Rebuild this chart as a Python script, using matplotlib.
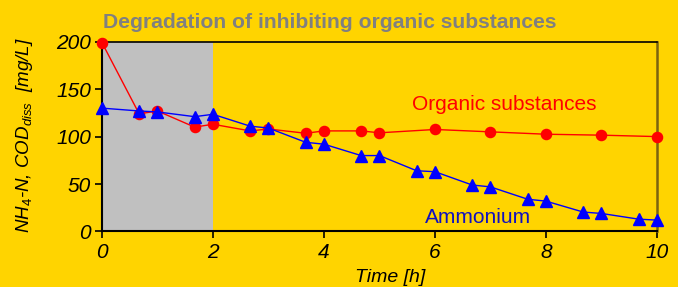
import matplotlib.pyplot as plt

# Daten: Zeit [h] und Konzentrationen [mg/L]
t_org = [0, 0.67, 1, 1.67, 2, 2.67, 3, 3.67, 4, 4.67, 5, 6, 7, 8, 9, 10]
organic = [199, 124, 127, 110, 113, 106, 108, 103.5, 106, 106, 104, 107.5, 105, 102.5, 101.5, 100]

t_nh4 = [0, 0.67, 1, 1.67, 2, 2.67, 3, 3.67, 4, 4.67, 5, 5.67, 6, 6.67, 7,
         7.67, 8, 8.67, 9, 9.67, 10]
ammonium = [130, 127, 126, 121, 123.5, 111, 109, 94, 92, 80, 80, 64, 63, 49, 47,
            34, 32, 20.5, 19, 13, 12]

bg = '#FFD400'
plt.rcParams['font.family'] = ['Liberation Sans', 'DejaVu Sans']
plt.rcParams['mathtext.fontset'] = 'custom'
plt.rcParams['mathtext.it'] = 'Liberation Sans:italic'
plt.rcParams['mathtext.rm'] = 'Liberation Sans'
plt.rcParams['mathtext.default'] = 'it'

fig = plt.figure(figsize=(6.78, 2.87), dpi=100, facecolor=bg)
ax = fig.add_axes([0.1504, 0.1934, 0.8186, 0.6613])
ax.set_facecolor(bg)

# grauer Bereich 0-2 h
ax.axvspan(0, 2, color='#C0C0C0', zorder=0, lw=0)

ax.plot(t_org, organic, '-', color='red', lw=1, marker='o', ms=7.3,
        mec='red', mfc='red', clip_on=False, zorder=3)
ax.plot(t_nh4, ammonium, '-', color='blue', lw=1, marker='^', ms=8,
        mec='blue', mfc='blue', clip_on=False, zorder=4)

ax.set_xlim(0, 10)
ax.set_ylim(0, 200)
ax.set_xticks([0, 2, 4, 6, 8, 10])
ax.set_yticks([0, 50, 100, 150, 200])
ax.tick_params(labelsize=15, direction='out', length=5, width=1.2, pad=3)
for lab in ax.get_xticklabels() + ax.get_yticklabels():
    lab.set_style('italic')

ax.spines['left'].set_linewidth(1.5)
ax.spines['bottom'].set_linewidth(1.5)
ax.spines['top'].set_linewidth(1.2)
ax.spines['right'].set_linewidth(1.8)
ax.spines['right'].set_color('#7A6410')

ax.set_xlabel('Time [h]', fontsize=14, style='italic')
ax.xaxis.set_label_coords(0.52, -0.2)
ax.set_ylabel(r'NH$_4$-N, COD$_{diss}$  [mg/L]', fontsize=13.5, style='italic')
ax.yaxis.set_label_coords(-0.12, 0.51)

fig.text(0.152, 0.92, 'Degradation of inhibiting organic substances',
         fontsize=15.2, fontweight='bold', color='#808080', va='center', ha='left')
ax.text(7.25, 134, 'Organic substances', fontsize=15, color='red', ha='center', va='center')
ax.text(6.77, 15, 'Ammonium', fontsize=15, color='#1010C0', ha='center', va='center')

fig.savefig('out.png', dpi=100, facecolor=bg)
